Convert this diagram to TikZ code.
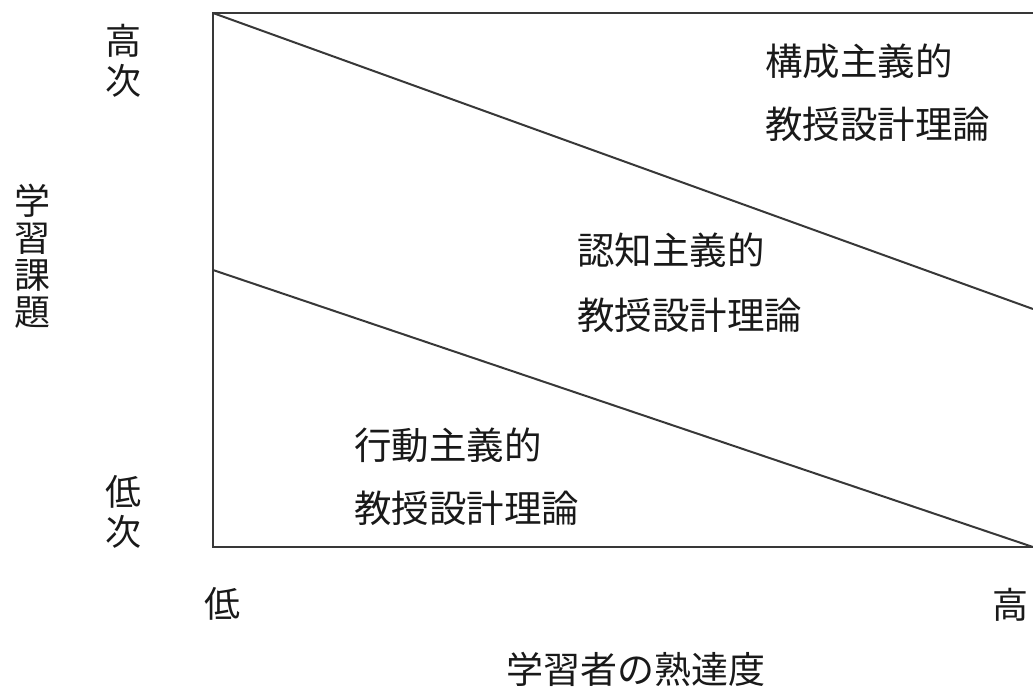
\documentclass[tikz,border=0pt]{standalone}
\usepackage{fontspec}
\newfontfamily\jp{Noto Sans CJK JP}
\begin{document}
\begin{tikzpicture}[x=1pt,y=-1pt,
  ln/.style={draw=black!78, line width=2pt},
  lbl/.style={inner sep=0pt, anchor=west, font=\jp\fontsize{37.5}{40}\selectfont, text=black!90},
  ax/.style={inner sep=0pt, anchor=center, align=center, text=black!90}]
\useasboundingbox (0,0) rectangle (1033,686);
\coordinate (tl) at (213,13);
\coordinate (bl) at (213,547);
\coordinate (tr) at (1033,13);
\coordinate (br) at (1033,547);
\coordinate (ml) at (213,270);
\coordinate (mr) at (1033,309);
\draw[ln] (tr) -- (tl) -- (bl) -- (br);
\draw[ln] (tl) -- (mr);
\draw[ln] (ml) -- (br);
% region labels
\node[lbl] (c1) at (765,61) {構成主義的};
\node[lbl] (c2) at (765,124) {教授設計理論};
\node[lbl] (k1) at (577,250) {認知主義的};
\node[lbl] (k2) at (577,315) {教授設計理論};
\node[lbl] (b1) at (354,445) {行動主義的};
\node[lbl] (b2) at (354,508) {教授設計理論};
% axes
\node[ax, font=\jp\fontsize{36}{40}\selectfont] (hi) at (123,61) {高\\次};
\node[ax, font=\jp\fontsize{36}{40}\selectfont] (lo) at (123,512) {低\\次};
\node[ax, font=\jp\fontsize{36}{37}\selectfont] (ya) at (32,256) {学\\習\\課\\題};
\node[ax, font=\jp\fontsize{36}{40}\selectfont] (xl) at (222,604) {低};
\node[ax, font=\jp\fontsize{36}{40}\selectfont] (xh) at (1010,605) {高};
\node[ax, font=\jp\fontsize{37}{40}\selectfont] (xa) at (636,669) {学習者の熟達度};
\end{tikzpicture}
\end{document}
